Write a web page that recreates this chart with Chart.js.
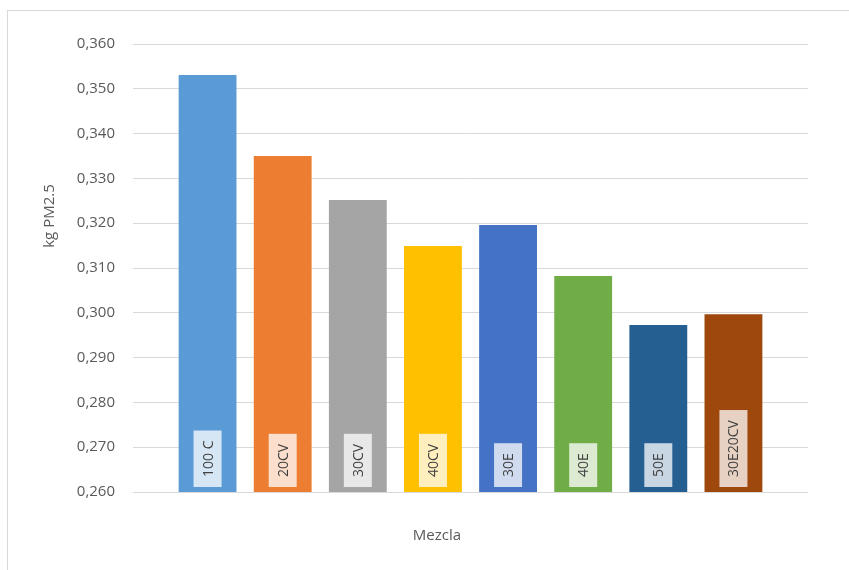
<!DOCTYPE html>
<html>
<head>
<meta charset="utf-8">
<script src="https://cdn.jsdelivr.net/npm/chart.js@4.4.1/dist/chart.umd.min.js"></script>
<style>
  html, body { margin: 0; padding: 0; background: #fff; }
  #marco { position: absolute; left: 7px; top: 10px; width: 860px; height: 580px; border: 1px solid #d9d9d9; }
  #contenedor { position: absolute; left: 0; top: 0; width: 849px; height: 570px; }
</style>
</head>
<body>
<div id="marco"></div>
<div id="contenedor"><canvas id="grafico"></canvas></div>
<script>
const mezclas = ['100 C', '20CV', '30CV', '40CV', '30E', '40E', '50E', '30E20CV'];
const valores = [0.3531, 0.3350, 0.3252, 0.3149, 0.3196, 0.3082, 0.2973, 0.2997];
const ticksY = ['0,260', '0,270', '0,280', '0,290', '0,300', '0,310', '0,320', '0,330', '0,340', '0,350', '0,360'];

const colores = [
    '#5B9BD5', // 100 C
    '#ED7D31', // 20CV
    '#A5A5A5', // 30CV
    '#FFC000', // 40CV
    '#4472C4', // 30E
    '#70AD47', // 40E
    '#255E91', // 50E
    '#9E480E'  // 30E20CV
];

const fuente = '"Open Sans", "DejaVu Sans", sans-serif';
const gris = '#d9d9d9';

// etiquetas giradas dentro de cada barra
const etiquetasBarras = {
    id: 'etiquetasBarras',
    afterDatasetsDraw(chart) {
        const c = chart.ctx;
        const meta = chart.getDatasetMeta(0);
        const base = chart.scales.y.getPixelForValue(chart.scales.y.min);
        c.save();
        c.font = '14px ' + fuente;
        meta.data.forEach(function (barra, i) {
            const txt = String(chart.data.labels[i]);
            const px = barra.x;
            const largo = c.measureText(txt).width + 20;
            const ancho = 28;
            const abajo = base - 5;
            c.fillStyle = 'rgba(255,255,255,0.75)';
            c.fillRect(px - ancho / 2, abajo - largo, ancho, largo);
            c.save();
            c.translate(px, abajo - largo / 2);
            c.rotate(-Math.PI / 2);
            c.fillStyle = '#404040';
            c.textAlign = 'center';
            c.textBaseline = 'middle';
            c.fillText(txt, 0, 1);
            c.restore();
        });
        c.restore();
    }
};

// titulos de los ejes (colocados como en el original)
const titulosEjes = {
    id: 'titulosEjes',
    afterDraw(chart) {
        const c = chart.ctx;
        c.save();
        c.fillStyle = '#595959';
        c.font = '15px ' + fuente;
        c.textAlign = 'center';
        c.textBaseline = 'middle';
        c.fillText('Mezcla', 437, 536);
        c.translate(50, 216);
        c.rotate(-Math.PI / 2);
        c.fillText('kg PM2.5', 0, 0);
        c.restore();
    }
};

const lienzo = document.getElementById('grafico').getContext('2d');

new Chart(lienzo, {
    type: 'bar',
    data: {
        labels: mezclas,
        datasets: [{
            label: 'kg PM2.5',
            data: valores,
            backgroundColor: colores,
            borderWidth: 0,
            categoryPercentage: 1,
            barPercentage: 0.77
        }]
    },
    options: {
        responsive: true,
        maintainAspectRatio: false,
        animation: false,
        devicePixelRatio: 1,
        layout: {
            padding: { top: 44, bottom: 78, left: 0, right: 0 }
        },
        scales: {
            x: { display: false },
            y: {
                position: 'left',
                min: 0.26,
                max: 0.36,
                afterFit: function (s) { s.width = 170; },
                border: { display: false },
                grid: { color: gris, tickColor: gris, tickLength: 37, lineWidth: 1 },
                ticks: {
                    stepSize: 0.01,
                    padding: 18,
                    color: '#595959',
                    font: { family: fuente, size: 15 },
                    callback: function (v, i) { return ticksY[i]; }
                }
            },
            yDer: {
                position: 'right',
                min: 0.26,
                max: 0.36,
                afterFit: function (s) { s.width = 78; },
                border: { display: false },
                grid: { color: gris, tickColor: gris, tickLength: 37, drawOnChartArea: false },
                ticks: { stepSize: 0.01, display: false }
            }
        },
        plugins: {
            legend: { display: false },
            tooltip: { enabled: false }
        }
    },
    plugins: [etiquetasBarras, titulosEjes]
});
</script>
</body>
</html>
